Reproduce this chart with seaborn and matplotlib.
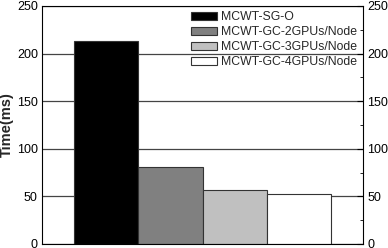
import matplotlib
matplotlib.use("Agg")
import matplotlib.pyplot as plt
import seaborn as sns
import pandas as pd
from matplotlib.ticker import MultipleLocator

series = ["MCWT-SG-O", "MCWT-GC-2GPUs/Node", "MCWT-GC-3GPUs/Node", "MCWT-GC-4GPUs/Node"]
times = [213.5, 80.5, 56.5, 52.5]
colors = ["#000000", "#808080", "#c0c0c0", "#ffffff"]
yticks = [0, 50, 100, 150, 200, 250]

df = pd.DataFrame({"group": ["run"] * len(series), "series": series, "time": times})

sns.set_style("white")
plt.rcParams["font.family"] = ["Liberation Sans", "DejaVu Sans"]

fig = plt.figure(figsize=(3.88, 2.48), dpi=100)
ax = fig.add_axes([42 / 388, 4 / 248, (363 - 42) / 388, (244 - 6) / 248])

sns.barplot(data=df, x="group", y="time", hue="series", hue_order=series,
            palette=colors, width=0.8, edgecolor="#333333", linewidth=0.8,
            saturation=1, ax=ax, legend=True)

ax.set_xlim(-0.5, 0.5)
ax.set_ylim(0, 250)
ax.set_yticks(yticks)
ax.yaxis.set_minor_locator(MultipleLocator(25))
ax.grid(True, axis="y", color="#444444", linewidth=0.9)
ax.set_axisbelow(True)
ax.set_xticks([])
ax.set_xlabel("")
ax.set_ylabel("Time(ms)", fontsize=10.5, fontweight="bold", labelpad=2)
ax.tick_params(axis="y", which="both", direction="in", right=True, labelright=True,
               labelsize=9, colors="black", pad=3)
ax.tick_params(axis="y", which="major", length=4)
ax.tick_params(axis="y", which="minor", length=2)
for s in ax.spines.values():
    s.set_visible(True)
    s.set_color("black")
    s.set_linewidth(0.8)

leg = ax.legend(loc="upper right", frameon=False, fontsize=8.8,
                bbox_to_anchor=(0.994, 0.993), handlelength=2.1, handleheight=0.65,
                handletextpad=0.35, labelspacing=0.25, borderaxespad=0, borderpad=0.3)

fig.savefig("out.png", dpi=100)
